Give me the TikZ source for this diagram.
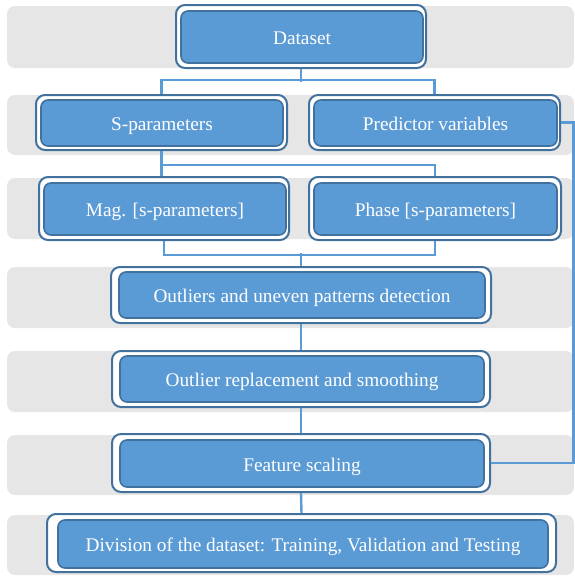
\documentclass[tikz,border=0pt]{standalone}
\usepackage{fontspec}
\setmainfont{Liberation Serif}
\definecolor{boxfill}{HTML}{5B9BD5}
\definecolor{boxline}{HTML}{41719C}
\definecolor{connline}{HTML}{5B9BD5}
\definecolor{bandgray}{HTML}{E7E6E6}
\begin{document}
\begin{tikzpicture}[x=1pt,y=-1pt,
  band/.style={fill=bandgray,draw=none,rounded corners=8pt},
  outerbox/.style={draw=boxline,line width=2pt,fill=white,rounded corners=9pt,inner sep=0pt},
  innerbox/.style={draw=boxline,line width=1.6pt,fill=boxfill,rounded corners=7pt,inner sep=0pt,
    text=white,text height=18pt,text depth=3pt,font=\fontsize{19.3}{22}\selectfont},
  conn/.style={draw=connline,line width=2.4pt}]
\useasboundingbox (0,0) rectangle (575,576);

% background bands
\foreach \t/\b in {6/68,95/155,178/239,267/328,351/412,435/495,515/575}
  \path[band] (7,\t) rectangle (574,\b);

% boxes: white outer frame with a blue inner panel
\node[outerbox,minimum width=250pt,minimum height=63pt] (ds) at (301,36.5) {};
\node[innerbox,minimum width=242pt,minimum height=52pt] (dsi) at (302,37) {Dataset};

\node[outerbox,minimum width=251pt,minimum height=55pt] (sp) at (161.5,122.5) {};
\node[innerbox,minimum width=242pt,minimum height=46pt] (spi) at (162,123) {S-parameters};

\node[outerbox,minimum width=251pt,minimum height=55pt] (pv) at (434.5,122.5) {};
\node[innerbox,minimum width=243pt,minimum height=46pt] (pvi) at (435.5,123) {Predictor variables};

\node[outerbox,minimum width=250pt,minimum height=63pt] (mg) at (164,208.5) {};
\node[innerbox,minimum width=242pt,minimum height=52pt] (mgi) at (165,209) {Mag. [s-parameters]};

\node[outerbox,minimum width=252pt,minimum height=63pt] (ph) at (435,208.5) {};
\node[innerbox,minimum width=243pt,minimum height=52pt] (phi) at (435.5,209) {Phase [s-parameters]};

\node[outerbox,minimum width=380pt,minimum height=56pt] (od) at (301,295) {};
\node[innerbox,minimum width=366pt,minimum height=46pt] (odi) at (302,295) {Outliers and uneven patterns detection};

\node[outerbox,minimum width=378pt,minimum height=56pt] (orp) at (301,379) {};
\node[innerbox,minimum width=364pt,minimum height=46pt] (orpi) at (302,379) {Outlier replacement and smoothing};

\node[outerbox,minimum width=378pt,minimum height=58pt] (fs) at (301,463) {};
\node[innerbox,minimum width=364pt,minimum height=47pt] (fsi) at (302,463.5) {Feature scaling};

\node[outerbox,minimum width=509pt,minimum height=58pt] (dv) at (301.5,543) {};
\node[innerbox,minimum width=490pt,minimum height=48pt] (dvi) at (303,544) {Division of the dataset: Training, Validation and Testing};

% connectors
\draw[conn] (ds.south) -- ++(0,13);
\draw[conn] (sp.north) -- ++(0,-14) -| (pv.north);

\draw[conn] (sp.south) -- ++(0,14) coordinate (j2) -| (ph.north);
\draw[conn] (j2) -- (j2 |- mg.north);

\draw[conn] (mg.south) -- ++(0,14) -| (ph.south);
\draw[conn] (od.north) -- ++(0,-13);

\draw[conn] (od.south) -- (orp.north);
\draw[conn] (orp.south) -- (fs.north);
\draw[conn] (fs.south) -- (dv.north);

\draw[conn] (pv.east) -- ++(12.5,0) |- (fs.east);
\end{tikzpicture}
\end{document}
